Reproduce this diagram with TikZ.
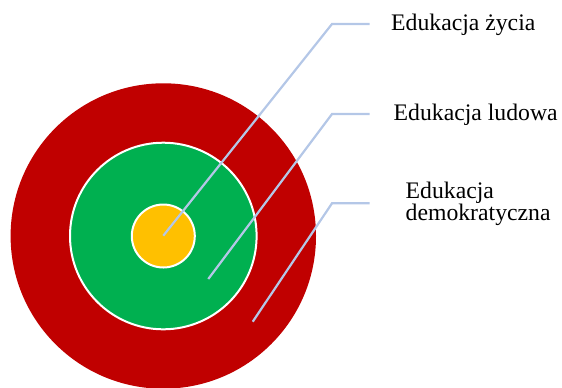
\documentclass[tikz,border=0pt]{standalone}
\usepackage{fontspec}
\setmainfont{Liberation Serif}
\definecolor{ringred}{HTML}{C00000}
\definecolor{ringgreen}{HTML}{00B050}
\definecolor{ringyellow}{HTML}{FFC000}
\definecolor{leaderblue}{HTML}{B4C7E7}

\begin{document}
\begin{tikzpicture}[x=1bp, y=-1bp,
    ring/.style={draw=white, line width=2bp},
    leader/.style={draw=leaderblue, line width=2.2bp},
    tag/.style={inner sep=0pt, anchor=base west, align=left,
        font=\fontsize{23.8}{22.5}\selectfont}]
    \useasboundingbox (0,0) rectangle (562,387);
    \clip (0,0) rectangle (562,387);
    % target
    \fill[ringred] (163.3,236) circle(152.7);
    \draw[ring, fill=ringgreen] (163.3,236) circle(93.3);
    \draw[ring, fill=ringyellow] (163.3,236) circle(31.5);
    % leader points
    \coordinate (p1) at (163.3,235.7);
    \coordinate (p2) at (208.3,279);
    \coordinate (p3) at (252.7,321.7);
    \coordinate (k1) at (332,24);
    \coordinate (k2) at (332,114);
    \coordinate (k3) at (332,203.3);
    \coordinate (e1) at (369.5,24);
    \coordinate (e2) at (369.5,114);
    \coordinate (e3) at (369.5,203.3);
    % labels
    \node[tag] (zycia) at (391,30.5) {Edukacja życia};
    \node[tag] (ludowa) at (393.5,120.5) {Edukacja ludowa};
    \node[tag] (demo) at (405.5,220.5) {Edukacja\\demokratyczna};
    \draw[leader] (p1) -- (k1) -- (e1);
    \draw[leader] (p2) -- (k2) -- (e2);
    \draw[leader] (p3) -- (k3) -- (e3);
\end{tikzpicture}
\end{document}
